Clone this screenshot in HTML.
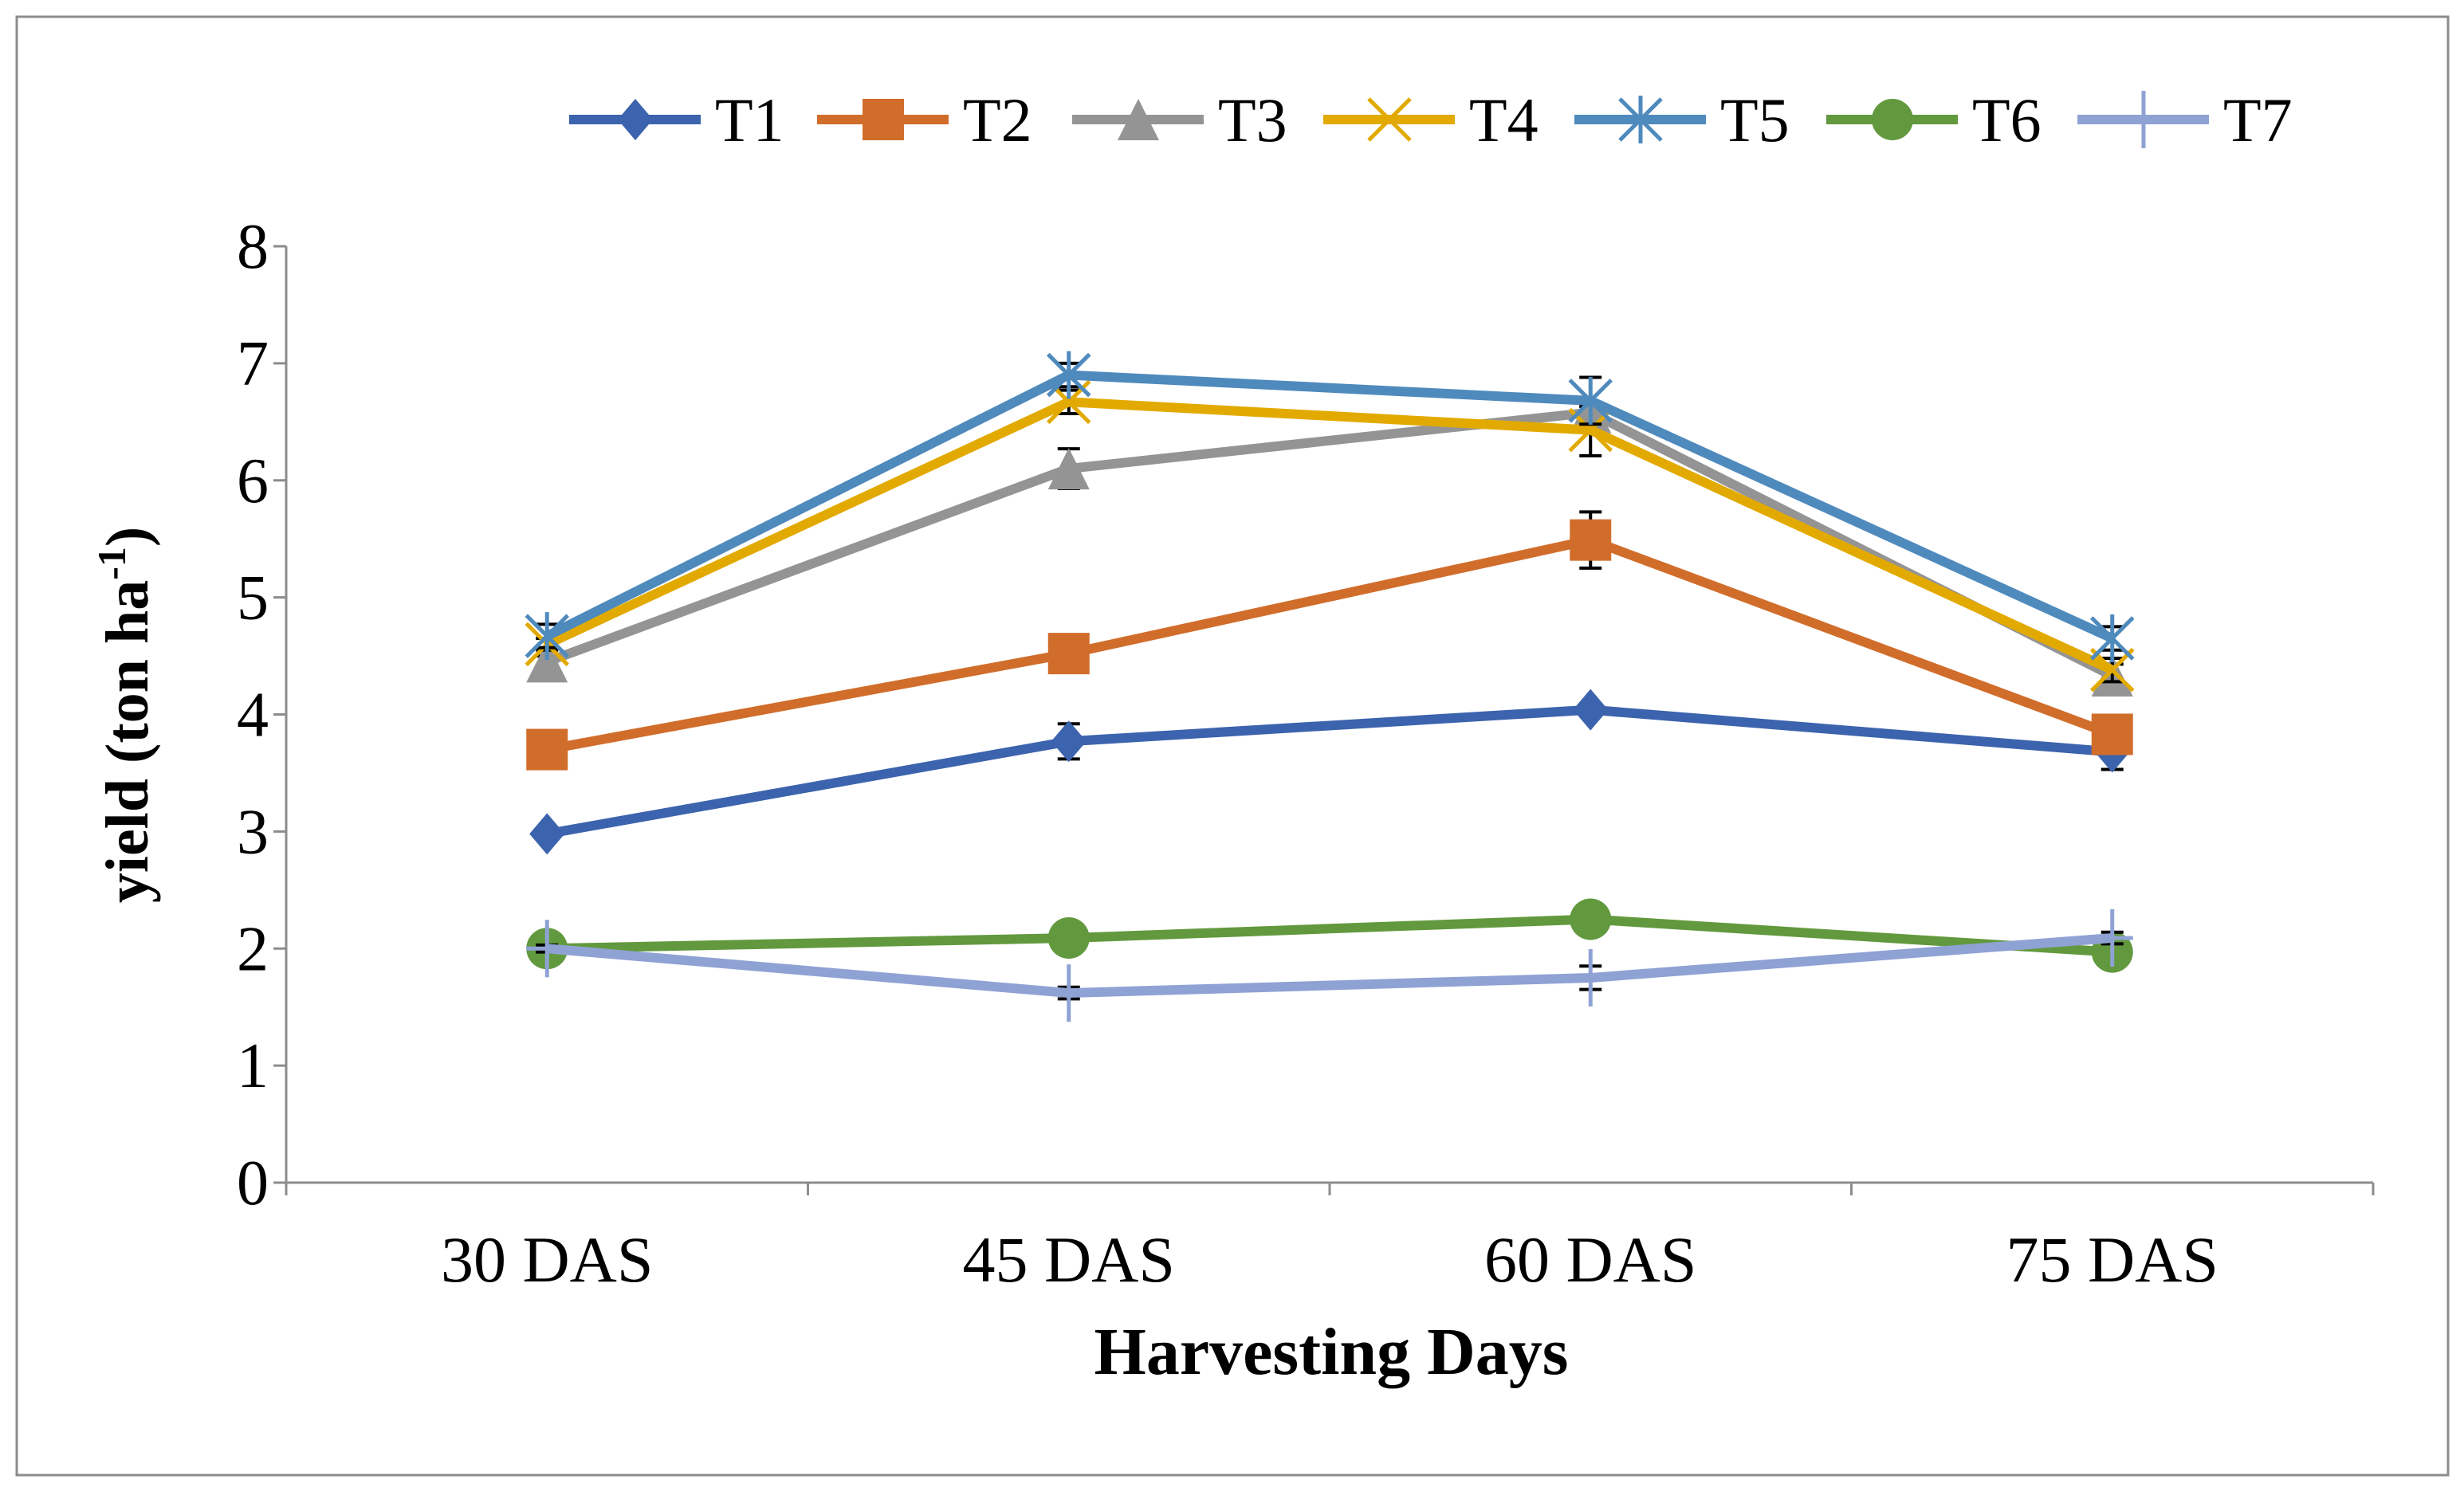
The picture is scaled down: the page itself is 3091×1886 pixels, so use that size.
<!DOCTYPE html>
<html><head><meta charset="utf-8"><style>
html,body{margin:0;padding:0;background:#fff;}
svg{display:block;}
text{font-family:"Liberation Serif","Times New Roman",serif;fill:#000;}
</style></head><body>
<svg id="chart" width="3091" height="1886" viewBox="0 0 3091 1886" font-family="Liberation Serif, serif">
<rect x="21" y="21" width="3050" height="1830" fill="#fff" stroke="#8c8c8c" stroke-width="3"/>
<g id="axes"></g>
<g id="series"></g>
<g id="legend"></g>
<text x="185" y="897" font-size="76" font-weight="bold" text-anchor="middle" transform="rotate(-90 185 897)">yield (ton ha<tspan font-size="50" dy="-28">-1</tspan><tspan dy="28">)</tspan></text>
<text x="1670" y="1724" font-size="84" font-weight="bold" text-anchor="middle">Harvesting Days</text>
</svg>
<script>
const categories = ["30 DAS","45 DAS","60 DAS","75 DAS"];
const yTicks = [0,1,2,3,4,5,6,7,8];
const seriesNames = ["T1","T2","T3","T4","T5","T6","T7"];
const t1 = [2.98,3.77,4.04,3.68];
const t2 = [3.70,4.52,5.49,3.83];
const t3 = [4.45,6.10,6.58,4.33];
const t4 = [4.60,6.67,6.43,4.38];
const t5 = [4.67,6.90,6.68,4.65];
const t6 = [2.00,2.09,2.25,1.97];
const t7 = [2.00,1.62,1.75,2.09];
const e1 = [0.03,0.15,0.05,0.15];
const e2 = [0.05,0.05,0.24,0.05];
const e3 = [0.05,0.17,0.05,0.10];
const e4 = [0.05,0.10,0.22,0.10];
const e5 = [0.10,0.10,0.20,0.10];
const e6 = [0.03,0.03,0.03,0.03];
const e7 = [0.03,0.05,0.10,0.05];

const values=[t1,t2,t3,t4,t5,t6,t7], errs=[e1,e2,e3,e4,e5,e6,e7];
const colors=["#3c63ad","#d16d2b","#949494","#e2aa00","#4f8abd","#62993e","#8fa2d4"];
const markers=["diamond","square","triangle","x","star","circle","plus"];
const NS="http://www.w3.org/2000/svg";
const X0=359,X1=2977,Y0=1484,Y8=309;
const yS=v=>Y0-(v/8)*(Y0-Y8);
const band=(X1-X0)/categories.length;
const xS=i=>X0+band*(i+0.5);
function mk(tag,attrs,parent){const e=document.createElementNS(NS,tag);for(const k in attrs)e.setAttribute(k,attrs[k]);parent.appendChild(e);return e;}
const axes=document.getElementById('axes');
let yl=mk('line',{x1:X0,y1:Y8,x2:X0,y2:Y0,stroke:'#8c8c8c','stroke-width':3},axes);


let xl=mk('line',{x1:X0,y1:Y0,x2:X1,y2:Y0,stroke:'#8c8c8c','stroke-width':3},axes);


yTicks.forEach(v=>{
  const y=yS(v);
  mk('line',{x1:X0-16,y1:y,x2:X0,y2:y,stroke:'#8c8c8c','stroke-width':3},axes);
  const t=mk('text',{x:X0-22,y:y+27,'font-size':80,'text-anchor':'end'},axes);
  t.textContent=v;
  
  
});
for(let i=0;i<=categories.length;i++){
  const x=X0+band*i;
  mk('line',{x1:x,y1:Y0,x2:x,y2:Y0+16,stroke:'#8c8c8c','stroke-width':3},axes);
}
categories.forEach((c,i)=>{
  const t=mk('text',{x:xS(i),y:1608,'font-size':82,'text-anchor':'middle'},axes);
  t.textContent=c;
  
  
});
function marker(type,x,y,col,parent){
  const g=mk('g',{},parent);
  const s=26;
  if(type==='diamond')mk('polygon',{points:`${x},${y-s} ${x+s*0.85},${y} ${x},${y+s} ${x-s*0.85},${y}`,fill:col},g);
  else if(type==='square')mk('rect',{x:x-s,y:y-s,width:2*s,height:2*s,fill:col},g);
  else if(type==='triangle')mk('polygon',{points:`${x},${y-s} ${x+s},${y+s} ${x-s},${y+s}`,fill:col},g);
  else if(type==='circle')mk('ellipse',{cx:x,cy:y,rx:s,ry:s,fill:col},g);
  else if(type==='x'){mk('path',{d:`M${x-s},${y-s}L${x+s},${y+s}M${x+s},${y-s}L${x-s},${y+s}`,stroke:col,'stroke-width':5},g);}
  else if(type==='star'){mk('path',{d:`M${x-s},${y-s}L${x+s},${y+s}M${x+s},${y-s}L${x-s},${y+s}M${x},${y-s-4}L${x},${y+s+4}`,stroke:col,'stroke-width':5},g);}
  else if(type==='plus'){mk('path',{d:`M${x-s},${y}L${x+s},${y}M${x},${y-s-10}L${x},${y+s+10}`,stroke:col,'stroke-width':5},g);}
  return g;
}
const sg=document.getElementById('series');
values.forEach((vals,si)=>{
  const g=mk('g',{},sg);
  
  
  vals.forEach((v,i)=>{
    const x=xS(i),e=errs[si][i];
    const eb=mk('path',{d:`M${x},${yS(v+e)}L${x},${yS(v-e)}M${x-14},${yS(v+e)}L${x+14},${yS(v+e)}M${x-14},${yS(v-e)}L${x+14},${yS(v-e)}`,stroke:'#000','stroke-width':4,fill:'none'},g);
    
    
  });
  const pts=vals.map((v,i)=>xS(i)+','+yS(v)).join(' ');
  const pl=mk('polyline',{points:pts,fill:'none',stroke:colors[si],'stroke-width':12,'stroke-linejoin':'round'},g);
  
  
  vals.forEach((v,i)=>{
    const m=marker(markers[si],xS(i),yS(v),colors[si],g);
    
    
  });
});
const lg=document.getElementById('legend');
const textX=[897,1208,1528,1843,2158,2474,2789];
seriesNames.forEach((n,si)=>{
  const g=mk('g',{},lg);
  
  
  const tx=textX[si],ly=150;
  mk('line',{x1:tx-183,y1:ly,x2:tx-18,y2:ly,stroke:colors[si],'stroke-width':12},g);
  marker(markers[si],tx-100,ly,colors[si],g);
  const t=mk('text',{x:tx,y:ly+27,'font-size':78},g);
  t.textContent=n;
});
</script>
</body></html>
